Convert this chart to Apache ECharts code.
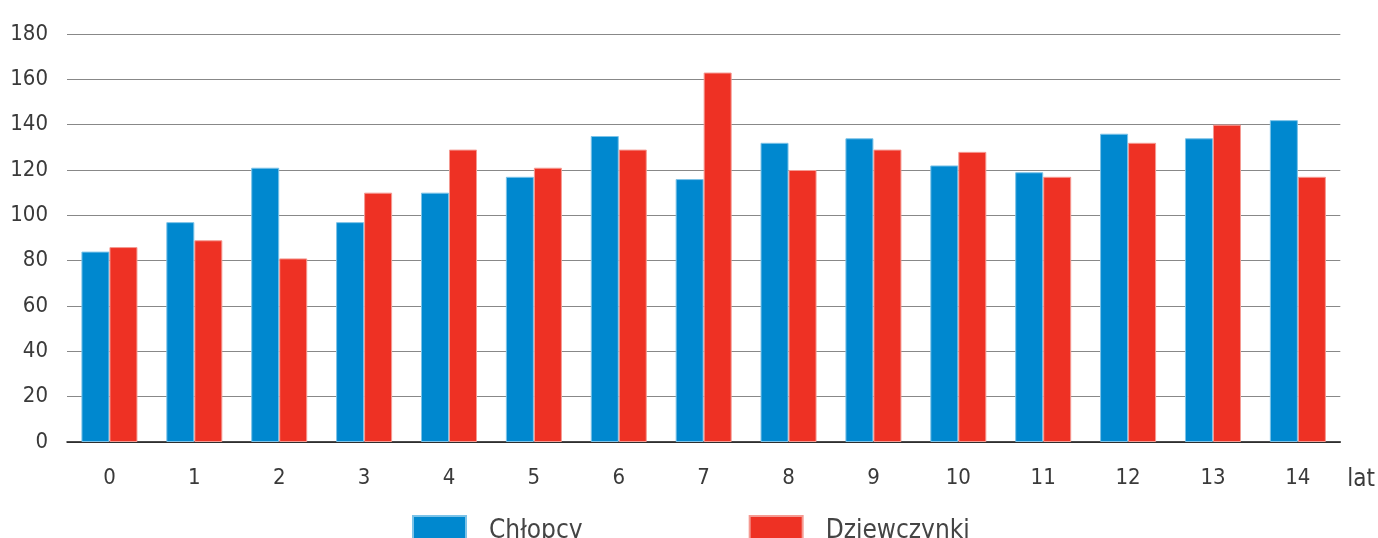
<!DOCTYPE html>
<html>
<head>
<meta charset="utf-8">
<script src="https://cdn.jsdelivr.net/npm/echarts@6/dist/echarts.min.js"></script>
<style>html,body{margin:0;padding:0;background:#fff}#c{width:1378px;height:538px}</style>
</head>
<body>
<div id="c"></div>
<script>
const categories = ['0','1','2','3','4','5','6','7','8','9','10','11','12','13','14'];
const boys = [84, 97, 121, 97, 110, 117, 135, 116, 132, 134, 122, 119, 136, 134, 142];
const girls = [86, 89, 81, 110, 129, 121, 129, 163, 120, 129, 128, 117, 132, 140, 117];
const yTicks = { min: 0, max: 180, interval: 20 };
const seriesNames = ['Chłopcy', 'Dziewczynki'];
const axisUnit = 'lat';

const FONT = '"DejaVu Sans Condensed", "Open Sans", sans-serif';
const chart = echarts.init(document.getElementById('c'));
chart.setOption({
  animation: false,
  textStyle: { fontFamily: FONT },
  grid: { left: 67, right: 35, top: 34, bottom: 96 },
  legend: {
    left: 412, top: 515, padding: 0,
    itemWidth: 53, itemHeight: 30, itemGap: 166,
    icon: 'rect',
    data: seriesNames,
    textStyle: { fontFamily: FONT, fontSize: 26, color: '#444', padding: [0, 0, 0, 18] }
  },
  xAxis: {
    type: 'category',
    data: categories,
    axisLine: { lineStyle: { color: '#111', width: 1.5 } },
    axisTick: { show: false },
    axisLabel: { fontSize: 22, color: '#3a3a3a', margin: 25, fontFamily: FONT },
    name: axisUnit,
    nameLocation: 'end',
    nameGap: 7,
    nameTextStyle: { fontSize: 24, color: '#3a3a3a', fontFamily: FONT, verticalAlign: 'top', padding: [26, 0, 0, 0] }
  },
  yAxis: {
    type: 'value',
    min: yTicks.min, max: yTicks.max, interval: yTicks.interval,
    axisLine: { show: false },
    axisTick: { show: false },
    axisLabel: { fontSize: 22, color: '#3a3a3a', margin: 19, fontFamily: FONT },
    splitLine: { lineStyle: { color: '#888', width: 1.2 } }
  },
  series: [
    {
      name: seriesNames[0], type: 'bar', data: boys,
      barGap: '0%', barCategoryGap: '34%',
      itemStyle: { color: '#0088CF', borderColor: '#7cc3e8', borderWidth: 1 }
    },
    {
      name: seriesNames[1], type: 'bar', data: girls,
      barGap: '0%', barCategoryGap: '34%',
      itemStyle: { color: '#EE3124', borderColor: '#f59a92', borderWidth: 1 }
    }
  ]
});
</script>
</body>
</html>
